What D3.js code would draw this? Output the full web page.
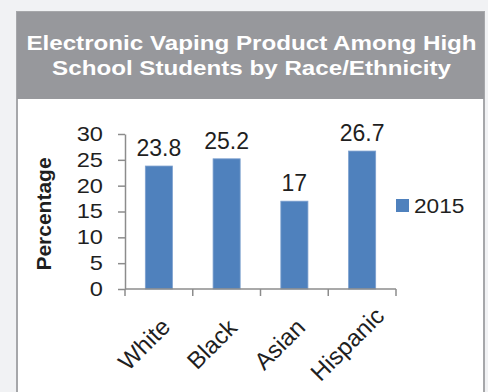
<!DOCTYPE html>
<html>
<head>
<meta charset="utf-8">
<script src="https://cdn.jsdelivr.net/npm/d3@7"></script>
<style>
  html, body { margin: 0; padding: 0; background: #f1f2f4; }
  svg { display: block; font-family: "Liberation Sans", Arial, sans-serif; }
</style>
</head>
<body>
<svg id="chart" width="488" height="392"></svg>
<script>
// Data
const categories = ["White", "Black", "Asian", "Hispanic"];
const values2015 = [23.8, 25.2, 17, 26.7];
const seriesName = "2015";
const yTicks = [0, 5, 10, 15, 20, 25, 30];
const titleLines = ["Electronic Vaping Product Among High", "School Students by Race/Ethnicity"];
const yTitle = "Percentage";

const svg = d3.select("#chart");
const W = 488, H = 392;

// Panel: gray header over a white body
const panel = { x: 17, y: 12, w: 467, headerH: 87 };
svg.append("rect").attr("x", panel.x).attr("y", panel.y)
  .attr("width", panel.w).attr("height", H - panel.y + 10)
  .attr("fill", "#ffffff").attr("stroke", "#a6a7aa").attr("stroke-width", 2);
svg.append("rect").attr("x", panel.x).attr("y", panel.y)
  .attr("width", panel.w).attr("height", panel.headerH)
  .attr("fill", "#97989c");

// Title (slightly widened glyphs)
svg.append("g").selectAll("text").data(titleLines).join("text")
  .attr("transform", (d, i) => `translate(${panel.x + panel.w / 2 + 1},${50 + i * 24.5}) scale(1.24,1)`)
  .attr("text-anchor", "middle")
  .attr("fill", "#ffffff")
  .attr("font-weight", "bold")
  .attr("font-size", 19.5)
  .text(d => d);

// Plot area
const plot = { left: 125, right: 396, top: 134, bottom: 289 };
const x = d3.scaleBand().domain(categories).range([plot.left, plot.right]).paddingInner(0.6).paddingOuter(0.3);
const xOuter = d3.scaleBand().domain(categories).range([plot.left, plot.right]);
const y = d3.scaleLinear().domain([0, 30]).range([plot.bottom, plot.top]);

const axisColor = "#8c8c8c";
const textColor = "#1f1f1f";

// Y axis
const yAxis = svg.append("g").attr("transform", `translate(${plot.left},0)`)
  .call(d3.axisLeft(y).tickValues(yTicks).tickSize(7).tickPadding(14).tickSizeOuter(0));
yAxis.select(".domain").attr("stroke", axisColor).attr("stroke-width", 1.5);
yAxis.selectAll(".tick line").attr("stroke", axisColor).attr("stroke-width", 1.5);
yAxis.selectAll(".tick text")
  .attr("x", null)
  .attr("transform", "translate(-22,0) scale(1.18,1)")
  .attr("font-size", 20).attr("fill", textColor)
  .attr("font-family", "Liberation Sans, Arial, sans-serif");

// Bars
svg.append("g").selectAll("rect").data(values2015).join("rect")
  .attr("x", (d, i) => x(categories[i]))
  .attr("y", d => y(d))
  .attr("width", x.bandwidth())
  .attr("height", d => y(0) - y(d))
  .attr("fill", "#4f81bd")
  .attr("stroke", "#7ea1cf").attr("stroke-width", 0.8);

// X axis with ticks at category boundaries
const xAxisG = svg.append("g");
xAxisG.append("line").attr("x1", plot.left).attr("x2", plot.right)
  .attr("y1", plot.bottom).attr("y2", plot.bottom)
  .attr("stroke", axisColor).attr("stroke-width", 1.5);
const boundaries = categories.map(c => xOuter(c)).concat([plot.right]);
xAxisG.selectAll("line.tk").data(boundaries).join("line").attr("class", "tk")
  .attr("x1", d => d).attr("x2", d => d)
  .attr("y1", plot.bottom).attr("y2", plot.bottom + 7)
  .attr("stroke", axisColor).attr("stroke-width", 1.5);

// Rotated category labels
xAxisG.selectAll("text").data(categories).join("text")
  .attr("transform", d => `translate(${xOuter(d) + xOuter.bandwidth() / 2 - 15},${344}) rotate(-45)`)
  .attr("text-anchor", "middle")
  .attr("dominant-baseline", "central")
  .attr("font-size", 24)
  .attr("fill", textColor)
  .text(d => d);

// Value labels
svg.append("g").selectAll("text").data(values2015).join("text")
  .attr("x", (d, i) => x(categories[i]) + x.bandwidth() / 2)
  .attr("y", d => y(d) - 10)
  .attr("text-anchor", "middle")
  .attr("font-size", 23)
  .attr("fill", textColor)
  .text(d => d);

// Y axis title
svg.append("text")
  .attr("transform", `translate(51,214) rotate(-90)`)
  .attr("text-anchor", "middle")
  .attr("font-weight", "bold")
  .attr("font-size", 21)
  .attr("fill", textColor)
  .text(yTitle);

// Legend
const legend = svg.append("g").attr("transform", "translate(396,199)");
legend.append("rect").attr("width", 13).attr("height", 13).attr("fill", "#4f81bd");
legend.append("text").attr("transform", "translate(18,14) scale(1.08,1)")
  .attr("font-size", 21).attr("fill", textColor).text(seriesName);
</script>
</body>
</html>
